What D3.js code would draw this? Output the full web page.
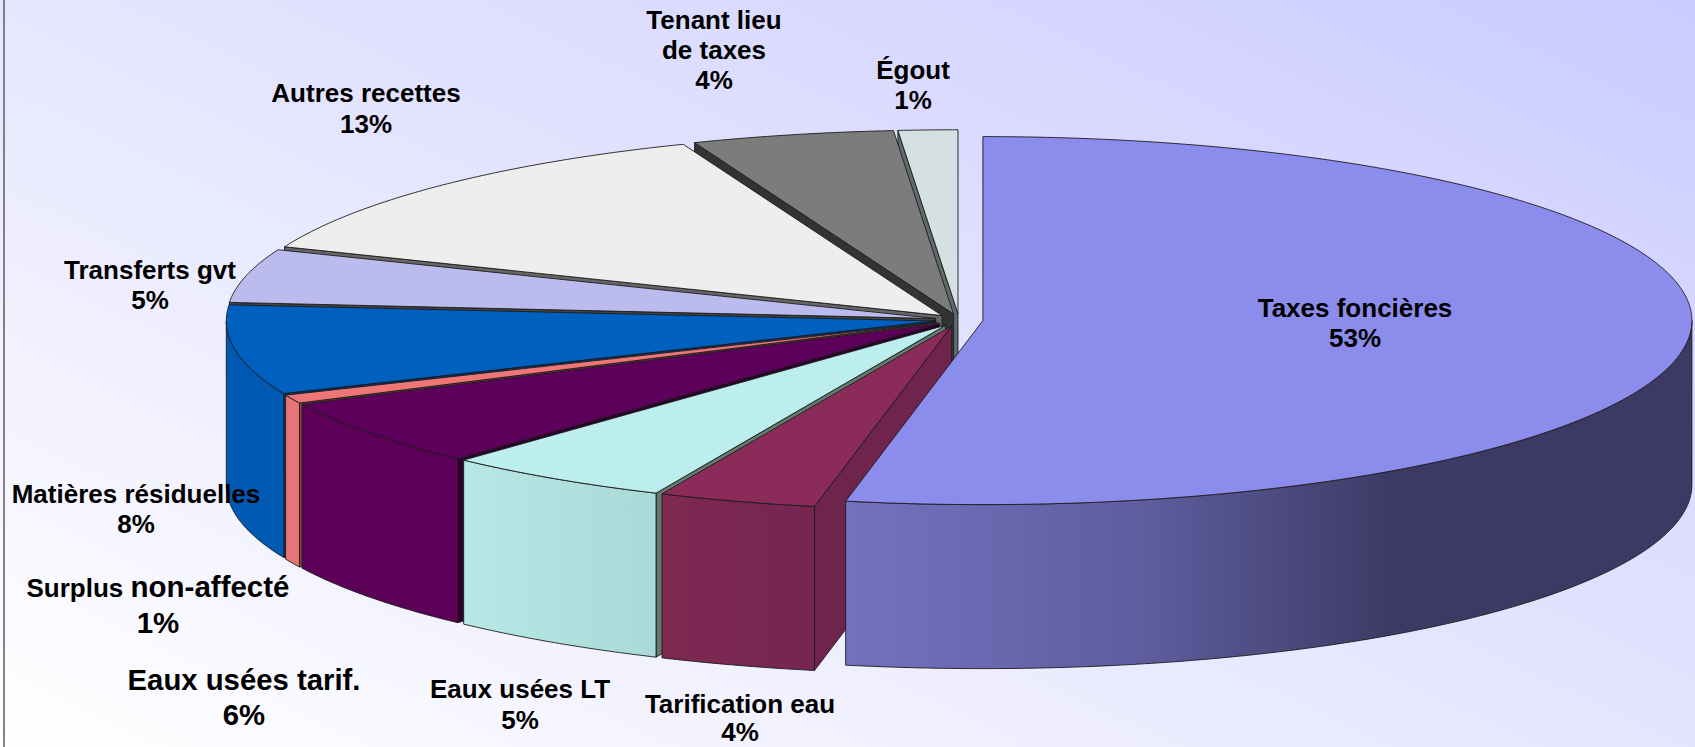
<!DOCTYPE html>
<html lang="fr">
<head>
<meta charset="utf-8">
<title>Recettes</title>
<script src="https://cdn.jsdelivr.net/npm/d3@7"></script>
<style>
  html, body { margin: 0; padding: 0; background: #fff; overflow: hidden; }
  text { font-family: "Liberation Sans", Arial, sans-serif; font-weight: bold; fill: #000; }
  .edge { stroke: #1c1c1c; stroke-width: 0.9; stroke-linejoin: round; }
</style>
</head>
<body>
<div id="chart"></div>
<script>
// clockwise from 12 o'clock, share of the full pie
const categories = ["Taxes foncières", "Tarification eau", "Eaux usées LT", "Eaux usées tarif.",
  "Surplus non-affecté", "Matières résiduelles", "Transferts gvt", "Autres recettes",
  "Tenant lieu de taxes", "Égout"];
const values = [53.1, 3.6, 5.2, 5.9, 0.75, 7.85, 4.7, 12.95, 4.6, 1.35];
const percentLabels = ["53%", "4%", "5%", "6%", "1%", "8%", "5%", "13%", "4%", "1%"];

const topColors = ["#8c8ced", "#8b2b5a", "#bbeeec", "#5c005c", "#ee7676",
  "#0060c0", "#bbbbee", "#eeeeee", "#7c7c7c", "#d5e0e3"];
const cutColors = ["#3c3a64", "#6e244c", "#647a70", "#2e002e", "#8a4545",
  "#00376e", "#444444", "#666666", "#333333", "#5f6a6c"];
const wallStops = [
  [[0, "#7472bf"], [0.35, "#5f5d9f"], [0.65, "#3c3a64"], [1, "#3c3a64"]],
  [[0, "#7f2852"], [1, "#742650"]],
  [[0, "#b8e8e6"], [1, "#a9dad8"]],
  [[0, "#5c0058"], [1, "#5c0058"]],
  [[0, "#e87575"], [1, "#e87575"]],
  [[0, "#005ab4"], [1, "#005ab4"]],
  [[0, "#b0b0e0"], [1, "#b0b0e0"]],
  [[0, "#e0e0e0"], [1, "#e0e0e0"]],
  [[0, "#707070"], [1, "#707070"]],
  [[0, "#c8d2d4"], [1, "#c8d2d4"]]
];

// label placement: centre x, first baseline, then the lines as [text, font size] runs
const labelX = [1355, 740, 520, 244, 158, 136, 150, 366, 714, 913];
const labelY = [317, 713, 698, 690, 597, 503, 279, 102, 29, 79];
const labelLead = [30, 28, 31, 35, 36, 30, 30, 31, 30, 30];
const labelLines = [
  [[["Taxes foncières", 26]]],
  [[["Tarification eau", 26]]],
  [[["Eaux usées LT", 26]]],
  [[["Eaux usées tarif.", 29.3]]],
  [[["Surplus ", 26], ["non-affecté", 29.5]]],
  [[["Matières résiduelles", 26]]],
  [[["Transferts gvt", 26]]],
  [[["Autres recettes", 26]]],
  [[["Tenant lieu", 26]], [["de taxes", 26]]],
  [[["Égout", 26]]]
];
const percentSize = [26, 26, 26, 29.3, 29.5, 26, 26, 26, 26, 26];

const width = 1695, height = 747;
const cx = 959, cy = 320, depth = 164;
const rx = 709, ry = 184;
const explode = 24; // every slice is pulled off the hub by the same distance

const svg = d3.select("#chart").append("svg")
  .attr("width", width)
  .attr("height", height)
  .style("display", "block");

const defs = svg.append("defs");

const bg = defs.append("linearGradient")
  .attr("id", "bg")
  .attr("gradientUnits", "userSpaceOnUse")
  .attr("x1", 0).attr("y1", height)
  .attr("x2", 601).attr("y2", -519);
bg.append("stop").attr("offset", 0).attr("stop-color", "#ffffff");
bg.append("stop").attr("offset", 1).attr("stop-color", "#cbcbff");

svg.append("rect")
  .attr("width", width)
  .attr("height", height)
  .attr("fill", "url(#bg)");

svg.append("line")
  .attr("x1", 4).attr("x2", 4)
  .attr("y1", 0).attr("y2", height)
  .attr("stroke", "#666666")
  .attr("stroke-width", 1.6);

const pie = d3.pie().sort(null).value((d) => d);
const slices = pie(values).map((d, i) => {
  const mid = (d.startAngle + d.endAngle) / 2;
  return {
    i,
    start: d.startAngle,
    end: d.endAngle,
    hubX: cx + explode * Math.sin(mid),
    hubY: cy - explode * Math.cos(mid) * (ry / rx)
  };
});

const pointOn = (s, a) => [s.hubX + rx * Math.sin(a), s.hubY - ry * Math.cos(a)];
const down = (p) => [p[0], p[1] + depth];
const line = d3.line();

// walk the rim in small steps so the wall follows the ellipse
function rimPoints(s, a0, a1) {
  const n = Math.max(2, Math.ceil((a1 - a0) * 120));
  return d3.range(n + 1).map((k) => pointOn(s, a0 + (a1 - a0) * k / n));
}

function drawSlice(s) {
  const g = svg.append("g").attr("class", "slice");
  const hub = [s.hubX, s.hubY];

  // cut faces, only the ones turned towards the viewer
  const faces = [];
  if (Math.sin(s.start) < -1e-6) faces.push(s.start);
  if (Math.sin(s.end) > 1e-6) faces.push(s.end);
  faces.forEach((a) => {
    const p = pointOn(s, a);
    g.append("path")
      .attr("class", "edge")
      .attr("d", line([hub, p, down(p), down(hub)]) + "Z")
      .attr("fill", cutColors[s.i]);
  });

  // outer wall, front half of the rim only
  const a0 = Math.max(s.start, Math.PI / 2);
  const a1 = Math.min(s.end, Math.PI * 1.5);
  if (a1 > a0) {
    const rim = rimPoints(s, a0, a1);
    const xs = d3.extent(rim, (p) => p[0]);
    const grad = defs.append("linearGradient")
      .attr("id", `wall${s.i}`)
      .attr("gradientUnits", "userSpaceOnUse")
      .attr("x1", xs[0]).attr("y1", 0)
      .attr("x2", xs[1]).attr("y2", 0);
    wallStops[s.i].forEach((st) => {
      grad.append("stop").attr("offset", st[0]).attr("stop-color", st[1]);
    });
    g.append("path")
      .attr("class", "edge")
      .attr("d", line(rim.concat(rim.map(down).reverse())) + "Z")
      .attr("fill", `url(#wall${s.i})`);
  }

  // top face
  g.append("path")
    .attr("class", "edge")
    .attr("d", line([hub].concat(rimPoints(s, s.start, s.end))) + "Z")
    .attr("fill", topColors[s.i]);
}

// back to front: left side from the top round to the bottom, Taxes last
slices.slice(1).reverse().concat(slices[0]).forEach(drawSlice);

const labels = svg.append("g").attr("class", "labels");
categories.forEach((name, i) => {
  const t = labels.append("text")
    .attr("text-anchor", "middle")
    .attr("data-category", name);
  const lines = labelLines[i];
  lines.forEach((runs, k) => {
    runs.forEach((run, r) => {
      const span = t.append("tspan")
        .attr("font-size", run[1])
        .attr("xml:space", "preserve")
        .text(run[0]);
      if (r === 0) span.attr("x", labelX[i]).attr("y", labelY[i] + k * labelLead[i]);
    });
  });
  t.append("tspan")
    .attr("x", labelX[i])
    .attr("y", labelY[i] + lines.length * labelLead[i])
    .attr("font-size", percentSize[i])
    .text(percentLabels[i]);
});
</script>
</body>
</html>
